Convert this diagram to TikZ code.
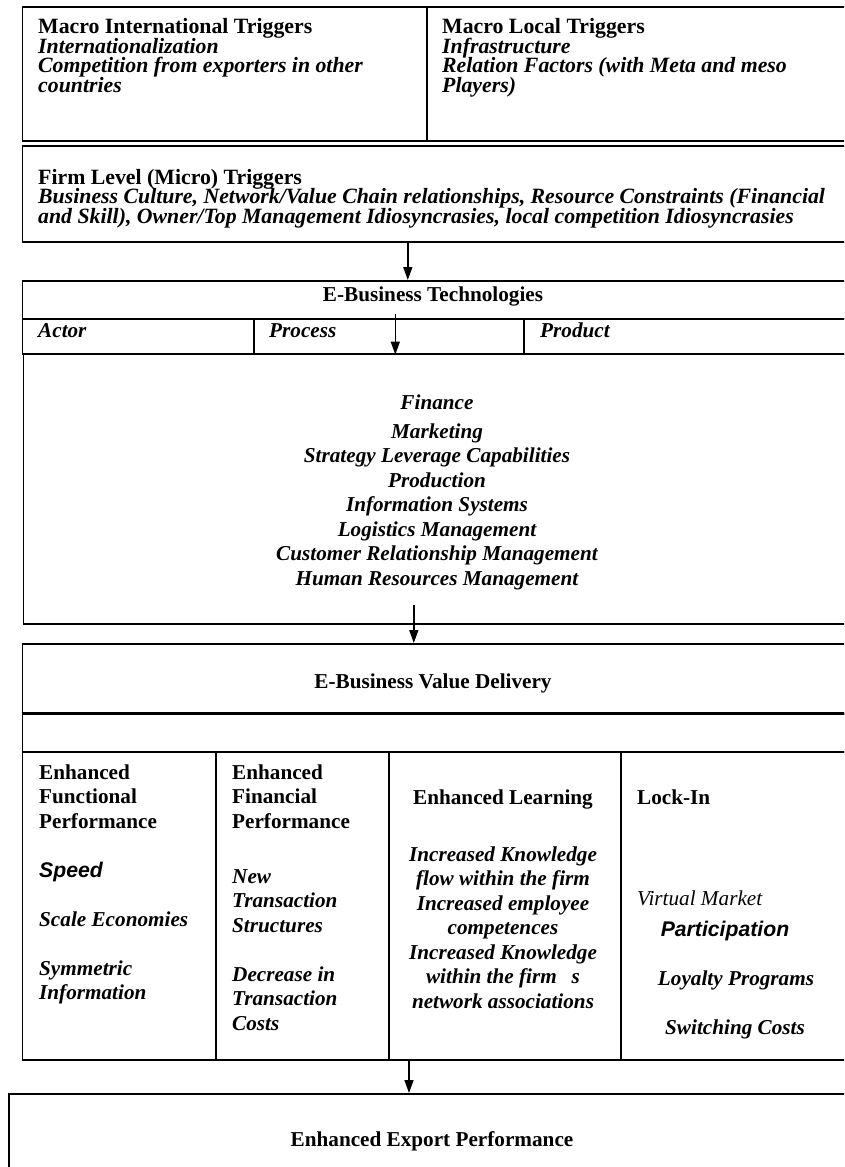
\documentclass[tikz,border=0pt]{standalone}
\usepackage{fontspec}
\setmainfont{Liberation Serif}
\newfontfamily\arialfont{Liberation Sans}
\usetikzlibrary{arrows.meta}

\newcommand{\toptext}{\fontsize{21.8}{19.5}\selectfont\lineskiplimit=-30pt}
\newcommand{\bodytext}{\fontsize{21.2}{24.5}\selectfont\lineskiplimit=-30pt}

\tikzset{
  box/.style={draw, line width=1.6pt, anchor=north west, inner sep=0pt},
  heavy/.style={line width=2.8pt},
  arr/.style={-{Triangle[length=13pt,width=9pt]}, line width=1.6pt},
  txt/.style={inner sep=0pt, anchor=base west, align=left},
  ctxt/.style={inner sep=0pt, anchor=base, align=center},
}

\begin{document}
\begin{tikzpicture}[x=1pt, y=-1pt]

        \useasboundingbox (0,0) rectangle (844,1167);
        \clip (0,0) rectangle (844,1167);

        % boxes
        \begin{scope}
          \node[box, minimum width=404.3pt, minimum height=134pt] (macroint) at (21.7,6) {};
          \node[box, minimum width=434pt,   minimum height=134pt] (macroloc) at (426,6)  {};
          \node[box, minimum width=838.3pt, minimum height=96pt]  (firm)     at (21.7,145) {};
          \node[box, minimum width=838.3pt, minimum height=38pt]  (techhead) at (21.7,280) {};
          \node[box, minimum width=231.3pt, minimum height=35pt]  (actor)    at (21.7,318) {};
          \node[box, minimum width=270pt,   minimum height=35pt]  (process)  at (253,318)  {};
          \node[box, minimum width=337pt,   minimum height=35pt]  (product)  at (523,318)  {};
          \node[box, minimum width=837.3pt, minimum height=270pt] (techbody) at (22.7,353) {};
          \node[box, minimum width=838.3pt, minimum height=70pt]  (valhead)  at (21.7,643) {};
          \node[box, minimum width=838.3pt, minimum height=38pt]  (valgap)   at (21.7,713) {};
          \node[box, minimum width=193.3pt, minimum height=308pt] (colfunc)  at (21.7,751) {};
          \node[box, minimum width=173pt,   minimum height=308pt] (colfin)   at (215,751)  {};
          \node[box, minimum width=232pt,   minimum height=308pt] (collearn) at (388,751)  {};
          \node[box, minimum width=240pt,   minimum height=308pt] (collock)  at (620,751)  {};
          \node[box, minimum width=852pt,   minimum height=90pt]  (export)   at (8,1093)   {};
        \end{scope}

        \draw[heavy] (valgap.north west) -- (valgap.north east);

        % arrows
        \draw[arr] ([xshift=-33.85pt]firm.south) -- ([xshift=-33.85pt]techhead.north);
        \draw[arr] ([xshift=6.5pt,yshift=4pt]process.north) -- ([xshift=6.5pt]process.south);
        \draw[arr] ([xshift=-28.35pt,yshift=20pt]techbody.south) -- ([xshift=-27.85pt]valhead.north);
        \draw[arr] ([xshift=21pt]collearn.south west) -- ([xshift=401pt]export.north west);

        % triggers (base = last line)
        \begin{scope}[every node/.style={txt, font=\toptext}]
          \node (macrointtxt) at (38,92) {\textbf{Macro International Triggers}\\
            \textbf{\textit{Internationalization}}\\
            \textbf{\textit{Competition from exporters in other}}\\
            \textbf{\textit{countries}}};
          \node (macroloctxt) at (442,92) {\textbf{Macro Local Triggers}\\
            \textbf{\textit{Infrastructure}}\\
            \textbf{\textit{Relation Factors (with Meta and meso}}\\
            \textbf{\textit{Players)}}};
          \node (firmtxt) at (38,223) {\textbf{Firm Level (Micro) Triggers}\\
            \textbf{\textit{Business Culture, Network/Value Chain relationships, Resource Constraints (Financial}}\\
            \textbf{\textit{and Skill), Owner/Top Management Idiosyncrasies, local competition Idiosyncrasies}}};
        \end{scope}

        % technologies
        \begin{scope}[every node/.style={font=\bodytext\bfseries\itshape}]
          \node[ctxt, font=\bodytext\bfseries] (techtitle) at (433,301) {E-Business Technologies};
          \node[txt] (actortxt)   at (38,337)  {Actor};
          \node[txt] (processtxt) at (269,337) {Process};
          \node[txt] (producttxt) at (540,337) {Product};
          \node[ctxt] (finance) at (437,409) {Finance};
          \node[ctxt] (levers)  at (437,585) {Marketing\\ Strategy Leverage Capabilities\\ Production\\
            Information Systems\\ Logistics Management\\ Customer Relationship Management\\
            Human Resources Management};
        \end{scope}

        % value delivery
        \begin{scope}[every node/.style={font=\bodytext\bfseries\itshape}]
          \node[ctxt, font=\bodytext\bfseries] (valtitle) at (433,688) {E-Business Value Delivery};
          \node[txt, font=\bodytext\bfseries] (functitle) at (39,828)  {Enhanced\\ Functional\\ Performance};
          \node[txt, font=\bodytext\bfseries] (fintitle)  at (232,828) {Enhanced\\ Financial\\ Performance};
          \node[ctxt, font=\bodytext\bfseries] (learntitle) at (503,804) {Enhanced Learning};
          \node[txt, font=\bodytext\bfseries] (locktitle) at (637,804) {Lock-In};
          \node[txt, font=\bodytext\bfseries\itshape\arialfont] (speed) at (39,877) {Speed};
          \node[txt] (scale) at (39,926) {Scale Economies};
          \node[txt] (symm)  at (39,999.5) {Symmetric\\ Information};
          \node[txt] (newtrans) at (232,932) {New\\ Transaction\\ Structures};
          \node[txt] (decrease) at (232,1030) {Decrease in\\ Transaction\\ Costs};
          \node[ctxt] (learnlist) at (503,1008) {Increased Knowledge\\ flow within the firm\\
            Increased employee\\ competences\\ Increased Knowledge\\ within the firm\hspace{0.7em}s\\
            network associations};
          \node[txt, font=\bodytext\itshape] (virtual) at (637,905) {Virtual Market};
          \node[ctxt, font=\bodytext\bfseries\itshape\arialfont] (particip) at (725,936) {Participation};
          \node[ctxt] (loyalty) at (736,985) {Loyalty Programs};
          \node[ctxt] (switching) at (735,1034) {Switching Costs};
        \end{scope}

        \node[ctxt, font=\bodytext\bfseries] (exporttxt) at (432,1146) {Enhanced Export Performance};

      \end{tikzpicture}
\end{document}
